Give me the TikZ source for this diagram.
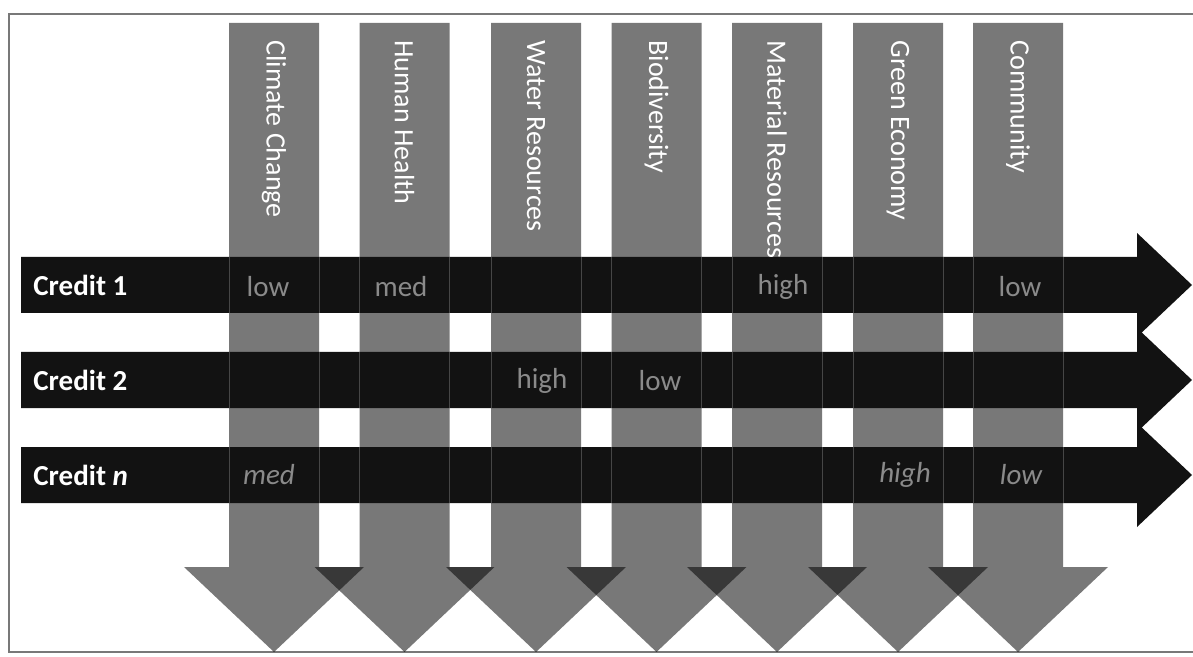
\documentclass[tikz,border=0pt]{standalone}
\usepackage{fontspec}
\setmainfont{Carlito}
\definecolor{scoregray}{RGB}{138,138,138}
\definecolor{framegray}{RGB}{120,120,120}
\definecolor{barblack}{RGB}{18,18,18}
\definecolor{seamgray}{RGB}{70,70,70}
\begin{document}
\begin{tikzpicture}[x=0.5pt,y=-0.5pt,
  theme/.style={fill=black,fill opacity=0.53,draw=none},
  creditbar/.style={fill=barblack,draw=none},
  seam/.style={draw=seamgray,line width=0.35pt},
  themelabel/.style={text=white,rotate=-90,anchor=west,inner sep=0pt,
    font=\fontsize{14}{16}\selectfont},
  creditlabel/.style={text=white,anchor=west,inner sep=0pt,
    font=\fontsize{14.5}{17}\selectfont\bfseries},
  score/.style={text=scoregray,inner sep=0pt,
    font=\fontsize{14.5}{17}\selectfont},
  scoreit/.style={score,font=\fontsize{14.5}{17}\selectfont\itshape}]

% canvas and frame
\fill[white] (0,0) rectangle (1193,657);
\useasboundingbox (0,0) rectangle (1193,657);
\draw[framegray,line width=0.7pt] (1200,14) -- (9,14) -- (9,652) -- (1200,652);

% theme arrows (translucent, so neighbouring heads darken where they overlap)
\foreach \c/\name in {274/col1,404.5/col2,536/col3,656.5/col4,777/col5,898/col6,1018/col7}{
  \path[theme] (\c-45,23) -- (\c+45,23) -- (\c+45,567) -- (\c+90,567)
    -- (\c,652) -- (\c-90,567) -- (\c-45,567) -- cycle;
  \coordinate (\name) at (\c,40);
}

% credit arrows
\foreach \m/\name in {285/row1,380/row2,475/rown}{
  \path[creditbar] (21,\m-28) -- (1137,\m-28) -- (1137,\m-52) -- (1192,\m)
    -- (1137,\m+52) -- (1137,\m+28) -- (21,\m+28) -- cycle;
  \coordinate (\name) at (33,\m);
}

% faint column edges showing through the credit bars
\foreach \c in {274,404.5,536,656.5,777,898,1018}{
  \foreach \m in {285,380,475}{
    \draw[seam] (\c-45,\m-28) -- (\c-45,\m+28);
    \draw[seam] (\c+45,\m-28) -- (\c+45,\m+28);
  }
}

% theme labels
\node[themelabel] (t1) at (col1) {Climate Change};
\node[themelabel] (t2) at (col2) {Human Health};
\node[themelabel] (t3) at (col3) {Water Resources};
\node[themelabel] (t4) at (col4) {Biodiversity};
\node[themelabel] (t5) at (col5) {Material Resources};
\node[themelabel] (t6) at (col6) {Green Economy};
\node[themelabel] (t7) at (col7) {Community};

% credit labels
\node[creditlabel] (c1) at (row1) {Credit 1};
\node[creditlabel] (c2) at (row2) {Credit 2};
\node[creditlabel] (cn) at (rown) {Credit \textit{n}};

% scores
\node[score] (s11) at (268,287) {low};
\node[score] (s12) at (401,287) {med};
\node[score] (s15) at (783,287) {high};
\node[score] (s17) at (1020,287) {low};
\node[score] (s23) at (542,381) {high};
\node[score] (s24) at (660,381) {low};
\node[scoreit] (sn1) at (269,475) {med};
\node[scoreit] (sn6) at (905,475) {high};
\node[scoreit] (sn7) at (1021,475) {low};
\end{tikzpicture}
\end{document}
